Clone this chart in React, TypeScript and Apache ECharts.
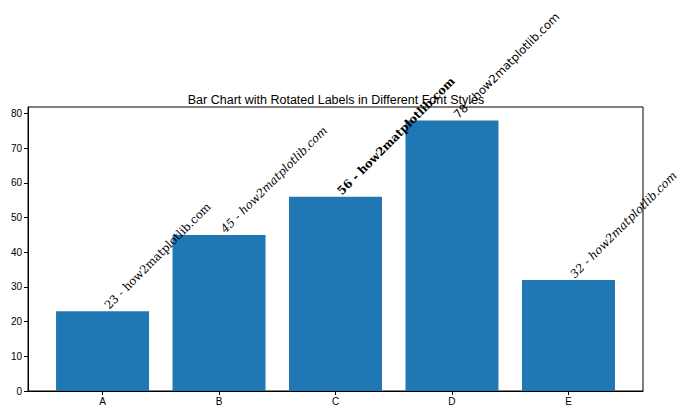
import React, { useEffect, useRef } from "react";
import * as echarts from "echarts";

const categories = ["A", "B", "C", "D", "E"];
const values = [23, 45, 56, 78, 32];
const yTicks = [0, 10, 20, 30, 40, 50, 60, 70, 80];
const labelSuffix = " - how2matplotlib.com";

const labelStyles = [
  { fontFamily: "DejaVu Serif", fontStyle: "normal", fontWeight: "normal" },
  { fontFamily: "DejaVu Serif", fontStyle: "italic", fontWeight: "normal" },
  { fontFamily: "DejaVu Serif", fontStyle: "normal", fontWeight: "bold" },
  { fontFamily: "DejaVu Sans", fontStyle: "normal", fontWeight: "normal" },
  { fontFamily: "DejaVu Serif", fontStyle: "italic", fontWeight: "normal" },
];

export default function App() {
  const ref = useRef<HTMLDivElement>(null);
  useEffect(() => {
    const chart = echarts.init(ref.current!, null, { renderer: "svg" });
    const barW = 93;
    chart.setOption({
      animation: false,
      backgroundColor: "#ffffff",
      title: {
        text: "Bar Chart with Rotated Labels in Different Font Styles",
        left: 331,
        top: 88,
        textAlign: "center",
        textStyle: {
          fontFamily: "Liberation Sans",
          fontSize: 12.5,
          fontWeight: "normal",
          color: "#000",
        },
      },
      grid: {
        left: 28,
        right: 57,
        top: 107,
        bottom: 29,
        show: true,
        borderColor: "#000",
        borderWidth: 1,
        backgroundColor: "transparent",
      },
      xAxis: {
        type: "value",
        min: -0.64,
        max: 4.64,
        splitLine: { show: false },
        axisLine: { show: true, onZero: false, lineStyle: { color: "#000", width: 1 } },
        axisTick: {
          show: true,
          length: 4,
          customValues: categories.map((_, i) => i),
          lineStyle: { color: "#000" },
        },
        axisLabel: {
          customValues: categories.map((_, i) => i),
          formatter: (v: number) => categories[Math.round(v)] ?? "",
          fontFamily: "Liberation Sans",
          fontSize: 10,
          color: "#000",
          margin: 5,
        },
      },
      yAxis: {
        type: "value",
        min: 0,
        max: 81.9,
        splitLine: { show: false },
        axisLine: { show: true, onZero: false, lineStyle: { color: "#000", width: 1 } },
        axisTick: {
          show: true,
          length: 4,
          customValues: yTicks,
          lineStyle: { color: "#000" },
        },
        axisLabel: {
          customValues: yTicks,
          fontFamily: "Liberation Sans",
          fontSize: 10,
          color: "#000",
          margin: 6,
        },
      },
      series: [
        {
          type: "bar",
          barWidth: barW,
          itemStyle: { color: "#1f77b4" },
          data: values.map((v, i) => ({
            value: [i, v],
            label: {
              show: true,
              position: [barW / 2 + 8, 0],
              rotate: 45,
              align: "left",
              verticalAlign: "bottom",
              formatter: `${v}${labelSuffix}`,
              fontSize: 11.5,
              color: "#000",
              ...labelStyles[i],
            },
          })),
        },
      ],
    });
    return () => chart.dispose();
  }, []);
  return (
    <div
      ref={ref}
      style={{ position: "fixed", left: 0, top: 0, width: 700, height: 420 }}
    />
  );
}
